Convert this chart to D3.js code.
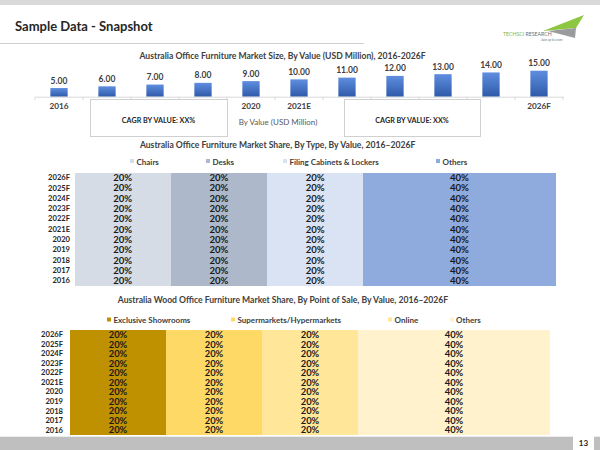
<!DOCTYPE html>
<html><head><meta charset="utf-8">
<script src="https://cdn.jsdelivr.net/npm/d3@7"></script>
<style>body{margin:0;background:#fff}svg{display:block;font-family:Lato,"Open Sans",sans-serif}</style>
</head><body><svg id="c" width="600" height="450"></svg>
<script>
// ---------- DATA ----------
const barYears = ["2016","2017","2018","2019","2020","2021E","2022F","2023F","2024F","2025F","2026F"];
const barValues = [5,6,7,8,9,10,11,12,13,14,15];
const barTickLabels = ["2016","2020","2021E","2026F"];

const shareYears = ["2026F","2025F","2024F","2023F","2022F","2021E","2020","2019","2018","2017","2016"];
const typeKeys = ["Chairs","Desks","Filing Cabinets & Lockers","Others"];
const typeChairs = [20,20,20,20,20,20,20,20,20,20,20];
const typeDesks  = [20,20,20,20,20,20,20,20,20,20,20];
const typeFiling = [20,20,20,20,20,20,20,20,20,20,20];
const typeOthers = [40,40,40,40,40,40,40,40,40,40,40];

const saleKeys = ["Exclusive Showrooms","Supermarkets/Hypermarkets","Online","Others"];
const saleShowrooms = [20,20,20,20,20,20,20,20,20,20,20];
const saleSuper     = [20,20,20,20,20,20,20,20,20,20,20];
const saleOnline    = [20,20,20,20,20,20,20,20,20,20,20];
const saleOthers    = [40,40,40,40,40,40,40,40,40,40,40];

// ---------- DRAW ----------
const svg = d3.select("#c");
const defs = svg.append("defs");
const grad = defs.append("linearGradient").attr("id","barGrad").attr("x1",0).attr("y1",0).attr("x2",0).attr("y2",1);
grad.append("stop").attr("offset","0%").attr("stop-color","#5f8ee0");
grad.append("stop").attr("offset","100%").attr("stop-color","#2f5aa8");

// header
svg.append("rect").attr("x",0).attr("y",0).attr("width",600).attr("height",5).attr("fill","#d9d9d9");
svg.append("text").attr("x",15).attr("y",31).attr("font-size",13).attr("font-weight","bold").attr("fill","#262626").text("Sample Data - Snapshot");
svg.append("line").attr("x1",0).attr("x2",364).attr("y1",43.5).attr("y2",43.5).attr("stroke","#d0d0d0").attr("stroke-width",1);

// logo
const logo = svg.append("g");
logo.append("polygon").attr("points","543,31 584,15 576,28").attr("fill","#8dc63f");
logo.append("polygon").attr("points","548,31 576,28 575,38").attr("fill","#9a9b9f");
const lt = logo.append("text").attr("x",503).attr("y",35.5).attr("font-size",5.2);
lt.append("tspan").attr("fill","#7ab648").text("TECHSCI ");
lt.append("tspan").attr("fill","#6d6e71").text("RESEARCH");
logo.append("text").attr("x",541).attr("y",41).attr("font-size",3).attr("font-style","italic").attr("fill","#6d6e71").text("Juice up to a new");

// bar chart
const xB = d3.scaleBand().domain(barYears).range([35,563]).paddingInner(0.64).paddingOuter(0.32);
const yB = d3.scaleLinear().domain([0,15]).range([96.7,70.7]);
svg.append("text").attr("x",282.5).attr("y",59).attr("text-anchor","middle").attr("font-size",8.6).attr("font-weight","bold").attr("fill","#404040")
  .text("Australia Office Furniture Market Size, By Value (USD Million), 2016-2026F");
svg.append("g").selectAll("rect").data(barValues).join("rect")
  .attr("x",(d,i)=>xB(barYears[i])).attr("width",xB.bandwidth())
  .attr("y",d=>yB(d)).attr("height",d=>yB(0)-yB(d)).attr("fill","url(#barGrad)");
svg.append("g").selectAll("text").data(barValues).join("text")
  .attr("x",(d,i)=>xB(barYears[i])+xB.bandwidth()/2).attr("y",d=>yB(d)-4.5)
  .attr("text-anchor","middle").attr("font-size",8.5).attr("font-weight","bold").attr("fill","#404040")
  .text(d=>d3.format(".2f")(d));
const axB = svg.append("g").attr("transform","translate(0,96.7)")
  .call(d3.axisBottom(xB).tickSize(0).tickPadding(6).tickFormat(d=>barTickLabels.includes(d)?d:""));
axB.select(".domain").attr("stroke","#d9d9d9");
axB.selectAll("text").attr("font-size",8.2).attr("font-weight","bold").attr("fill","#404040").attr("font-family","Lato");
svg.append("g").selectAll("line").data(d3.range(barYears.length+1)).join("line")
  .attr("x1",i=>35+i*(528/barYears.length)).attr("x2",i=>35+i*(528/barYears.length))
  .attr("y1",96.7).attr("y2",100).attr("stroke","#d9d9d9");

// CAGR boxes
[[90,227],[344,480]].forEach(([a,b])=>{
  svg.append("rect").attr("x",a+0.5).attr("y",99.5).attr("width",b-a).attr("height",37).attr("fill","#fff").attr("stroke","#d0d0d0");
  svg.append("text").attr("x",(a+b)/2).attr("y",122.5).attr("text-anchor","middle").attr("font-size",7.2).attr("font-weight","bold").attr("fill","#262626").text("CAGR BY VALUE: XX%");
});
svg.append("text").attr("x",278).attr("y",124.5).attr("text-anchor","middle").attr("font-size",8).attr("fill","#595959").text("By Value (USD Million)");

// stacked table helper
function stackedTable(cfg){
  const rows = shareYears.map((y,i)=>{const o={year:y}; cfg.keys.forEach((k,j)=>o[k]=cfg.series[j][i]); return o;});
  const st = d3.stack().keys(cfg.keys)(rows);
  const x = d3.scaleLinear().domain([0,100]).range([cfg.x0,cfg.x1]);
  const y = d3.scaleBand().domain(shareYears).range([cfg.y0,cfg.y1]).padding(0);
  const color = d3.scaleOrdinal().domain(cfg.keys).range(cfg.colors);
  svg.append("text").attr("x",cfg.tx).attr("y",cfg.ty).attr("text-anchor","middle").attr("font-size",8.6).attr("font-weight","bold").attr("fill","#404040").text(cfg.title);
  const lg = svg.append("g");
  cfg.keys.forEach((k,j)=>{
    lg.append("rect").attr("x",cfg.legendX[j]-2).attr("y",cfg.ly-5.5).attr("width",4).attr("height",4).attr("fill",color(k));
    lg.append("text").attr("x",cfg.legendX[j]+4.5).attr("y",cfg.ly).attr("font-size",8).attr("font-weight","bold").attr("fill","#404040").text(k);
  });
  const g = svg.append("g");
  st.forEach(s=>{
    g.append("g").selectAll("rect").data(s).join("rect")
      .attr("x",d=>x(d[0])).attr("width",d=>x(d[1])-x(d[0]))
      .attr("y",d=>y(d.data.year)).attr("height",y.bandwidth()+0.3)
      .attr("fill",color(s.key)).attr("shape-rendering","crispEdges");
  });
  st.forEach(s=>{
    g.append("g").selectAll("text").data(s).join("text")
      .attr("x",d=>(x(d[0])+x(d[1]))/2).attr("y",d=>y(d.data.year)+y.bandwidth()/2+cfg.fs*0.34)
      .attr("text-anchor","middle").attr("font-size",cfg.fs).attr("font-weight","bold").attr("fill","#1a1a1a")
      .text(d=>(d[1]-d[0])+"%");
  });
  const ax = svg.append("g").attr("transform",`translate(${cfg.lx},0)`).call(d3.axisLeft(y).tickSize(0).tickPadding(0));
  ax.select(".domain").remove();
  ax.selectAll("text").attr("font-size",7.6).attr("font-weight","bold").attr("fill","#262626").attr("font-family","Lato");
}

stackedTable({
  keys:typeKeys, series:[typeChairs,typeDesks,typeFiling,typeOthers],
  colors:["#d6dce5","#adb9ca","#dae3f3","#8faadc"],
  x0:74.6, x1:555.7, y0:172.7, y1:286, lx:70, fs:9.6,
  title:"Australia Office Furniture Market Share, By Type, By Value, 2016–2026F", tx:277.6, ty:148,
  legendX:[132,208,285,438], ly:164.5
});
stackedTable({
  keys:saleKeys, series:[saleShowrooms,saleSuper,saleOnline,saleOthers],
  colors:["#bf9000","#ffd966","#ffe699","#fff2cc"],
  x0:70, x1:550, y0:330, y1:435, lx:63, fs:9.4,
  title:"Australia Wood Office Furniture Market Share, By Point of Sale, By Value, 2016–2026F", tx:283, ty:303,
  legendX:[109,233,390,451.6], ly:323
});

// footer
svg.append("rect").attr("x",0).attr("y",436.7).attr("width",573).attr("height",13.3).attr("fill","#bfbfbf");
svg.append("rect").attr("x",594).attr("y",436.7).attr("width",6).attr("height",13.3).attr("fill","#bfbfbf");
svg.append("text").attr("x",583.5).attr("y",446).attr("text-anchor","middle").attr("font-size",8).attr("font-weight","bold").attr("fill","#262626").text("13");
</script></body></html>
